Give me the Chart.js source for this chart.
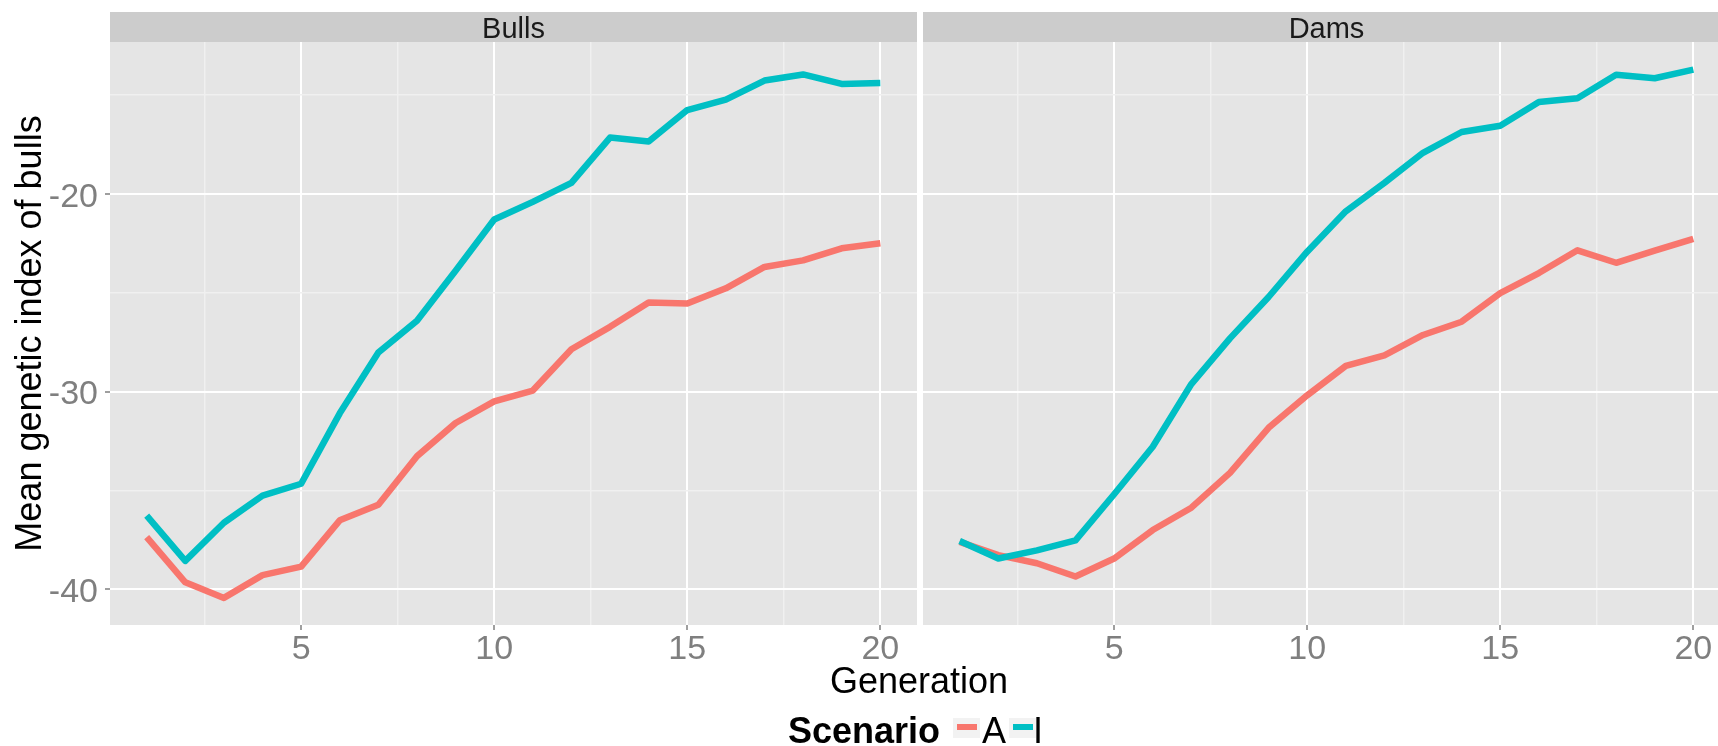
<!DOCTYPE html>
<html>
<head>
<meta charset="utf-8">
<script src="https://cdn.jsdelivr.net/npm/chart.js@4.4.1/dist/chart.umd.min.js"></script>
<style>
  html, body { margin:0; padding:0; background:#fff; overflow:hidden; }
  body { width:1718px; height:746px; position:relative; font-family:'Liberation Sans', Arial, sans-serif; }
  canvas { position:absolute; top:0; }
  #bulls { left:0; }
  #dams { left:923px; }
  .xtitle { position:absolute; left:769px; width:300px; top:663px; text-align:center; font-size:36px; line-height:36px; color:#000; }
  .leg { position:absolute; top:713px; font-size:36px; line-height:36px; color:#000; white-space:nowrap; }
  .keybox { position:absolute; top:718px; width:27px; height:20px; background:#F2F2F2; }
  .keyline { position:absolute; top:724px; width:20px; height:6px; }
</style>
</head>
<body>
<canvas id="bulls" width="917" height="680"></canvas>
<canvas id="dams" width="807" height="680"></canvas>
<div class="xtitle">Generation</div>
<div class="leg" style="left:788px;font-weight:bold">Scenario</div>
<div class="keybox" style="left:953px"></div>
<div class="keyline" style="left:957px;background:#F8766D"></div>
<div class="leg" style="left:982px">A</div>
<div class="keybox" style="left:1009px"></div>
<div class="keyline" style="left:1013px;background:#00BFC4"></div>
<div class="leg" style="left:1033px">I</div>
<script>
// ── data ──
const generations = [1,2,3,4,5,6,7,8,9,10,11,12,13,14,15,16,17,18,19,20];
const bullsA = [-37.36,-39.64,-40.43,-39.28,-38.85,-36.51,-35.72,-33.27,-31.59,-30.50,-29.95,-27.86,-26.73,-25.50,-25.55,-24.78,-23.70,-23.37,-22.76,-22.50];
const bullsI = [-36.27,-38.56,-36.63,-35.26,-34.66,-31.10,-28.03,-26.42,-23.89,-21.30,-20.41,-19.45,-17.16,-17.36,-15.77,-15.24,-14.28,-13.97,-14.45,-14.40];
const damsA  = [-37.60,-38.27,-38.68,-39.35,-38.44,-37.00,-35.87,-34.11,-31.83,-30.19,-28.70,-28.17,-27.14,-26.47,-25.02,-24.01,-22.86,-23.49,-22.88,-22.28];
const damsI  = [-37.55,-38.44,-38.03,-37.52,-35.19,-32.79,-29.62,-27.31,-25.22,-22.93,-20.89,-19.45,-17.93,-16.88,-16.56,-15.36,-15.17,-13.99,-14.16,-13.73];
const xTicks = [5,10,15,20];
const xMinor = [2.5,7.5,12.5,17.5];
const yTicks = [-40,-30,-20];
const yMinor = [-35,-25,-15];

const RED = '#F8766D', CYAN = '#00BFC4', TICK_GREY = '#7F7F7F';

Chart.defaults.font.family = "'Liberation Sans', Arial, sans-serif";
Chart.defaults.animation = false;

// grey panel + facet strip
const panelPlugin = {
  id: 'panel',
  beforeDraw(chart, args, opts) {
    const {ctx, chartArea:a} = chart;
    ctx.save();
    ctx.fillStyle = '#E5E5E5';
    ctx.fillRect(a.left, a.top, a.right-a.left, a.bottom-a.top);
    ctx.fillStyle = '#CCCCCC';
    ctx.fillRect(a.left, 12, a.right-a.left, a.top-12);
    ctx.fillStyle = '#1A1A1A';
    ctx.font = "29px 'Liberation Sans', Arial, sans-serif";
    ctx.textAlign = 'center';
    ctx.textBaseline = 'alphabetic';
    ctx.fillText(opts.label, (a.left+a.right)/2, 38);
    ctx.restore();
  }
};

const isMajor = (list, v) => list.includes(v);
const pts = arr => generations.map((g,i) => ({x:g, y:arr[i]}));

function makePanel(id, label, seriesA, seriesI, showY) {
  return new Chart(document.getElementById(id), {
    type:'line',
    data:{
      datasets:[
        { label:'A', data:pts(seriesA), borderColor:RED, borderWidth:6.5, pointRadius:0, tension:0, borderJoinStyle:'round', order:1 },
        { label:'I', data:pts(seriesI), borderColor:CYAN, borderWidth:6.5, pointRadius:0, tension:0, borderJoinStyle:'round', order:0 }
      ]
    },
    options:{
      responsive:false, devicePixelRatio:1,
      layout:{ padding:{top:42, left:0, right:0, bottom:0} },
      plugins:{ legend:{display:false}, tooltip:{enabled:false}, panel:{label} },
      scales:{
        x:{
          type:'linear', min:0.05, max:20.95,
          afterBuildTicks: s => { s.ticks = [...xMinor, ...xTicks].sort((a,b)=>a-b).map(v=>({value:v})); },
          afterFit: s => { s.height = 55; },
          ticks:{ autoSkip:false, maxRotation:0, padding:-1, color:TICK_GREY, font:{size:34},
                  callback: v => isMajor(xTicks, v) ? String(v) : '' },
          grid:{ color: c => isMajor(xTicks, c.tick.value) ? '#FFFFFF' : '#F0F0F0',
                 lineWidth: c => isMajor(xTicks, c.tick.value) ? 2 : 1.5,
                 tickLength:5, tickWidth:1.5,
                 tickColor: c => isMajor(xTicks, c.tick.value) ? TICK_GREY : 'rgba(0,0,0,0)' },
          border:{display:false}
        },
        y:{
          min:-41.8, max:-12.33,
          afterBuildTicks: s => { s.ticks = [...yTicks, ...yMinor].sort((a,b)=>a-b).map(v=>({value:v})); },
          afterFit: s => { s.width = showY ? 110 : 0; },
          title:{ display:showY, text:'Mean genetic index of bulls', color:'#000', font:{size:36}, padding:{top:9, bottom:0} },
          ticks:{ display:showY, autoSkip:false, padding:7, labelOffset:3.5, color:TICK_GREY, font:{size:34},
                  callback: v => isMajor(yTicks, v) ? String(v) : '' },
          grid:{ color: c => isMajor(yTicks, c.tick.value) ? '#FFFFFF' : '#F0F0F0',
                 lineWidth: c => isMajor(yTicks, c.tick.value) ? 2 : 1.5,
                 drawTicks:showY, tickLength:5, tickWidth:1.5,
                 tickColor: c => isMajor(yTicks, c.tick.value) ? TICK_GREY : 'rgba(0,0,0,0)' },
          border:{display:false}
        }
      }
    },
    plugins:[panelPlugin]
  });
}

makePanel('bulls', 'Bulls', bullsA, bullsI, true);
makePanel('dams', 'Dams', damsA, damsI, false);
</script>
</body>
</html>
